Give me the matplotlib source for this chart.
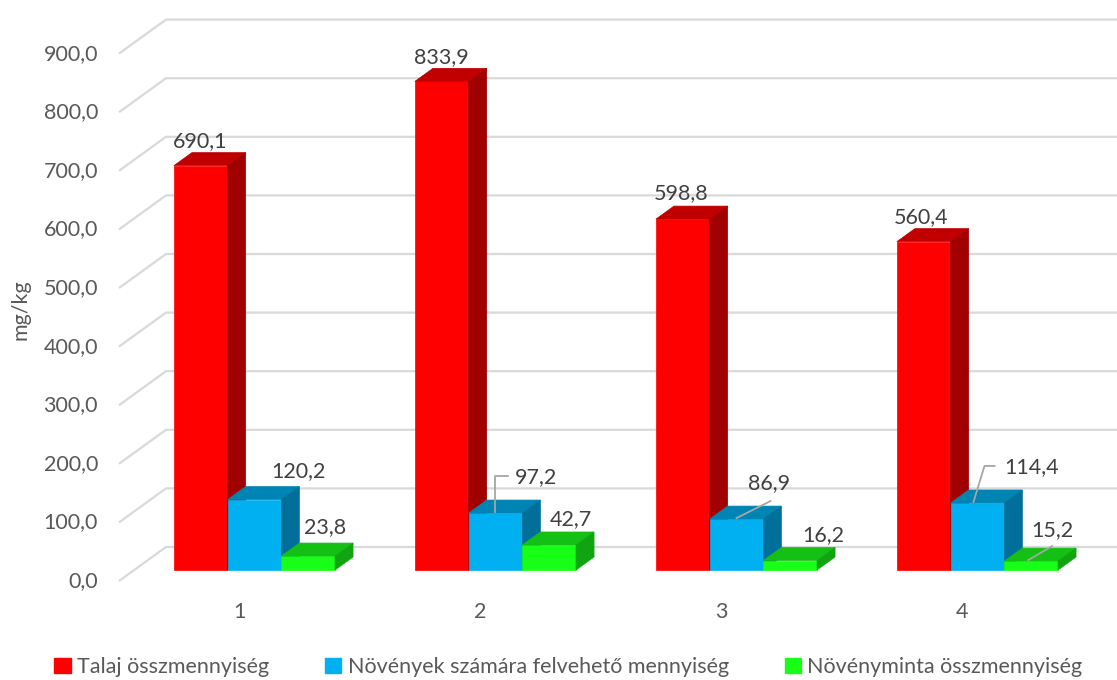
import matplotlib.pyplot as plt
from matplotlib.patches import Polygon, Patch

plt.rcParams['font.family'] = ['Lato', 'DejaVu Sans']

# adatok
categories = ['1', '2', '3', '4']
series_names = ['Talaj összmennyiség',
                'Növények számára felvehető mennyiség',
                'Növényminta összmennyiség']
talaj = [690.1, 833.9, 598.8, 560.4]
felveheto = [120.2, 97.2, 86.9, 114.4]
novenyminta = [23.8, 42.7, 16.2, 15.2]
y_ticks = [0, 100, 200, 300, 400, 500, 600, 700, 800, 900]

front_cols = ['#FF0000', '#00B0F0', '#17FF17']
top_cols = ['#C00000', '#0084B4', '#14C014']
side_cols = ['#A00000', '#00709A', '#10A410']

# címke eltolások pixelben (x, y) a hasáb tetejéhez képest
label_offsets = [
    [(-1, 25), (0, 24), (-2, 26), (-3, 25)],
    [(44, 28), (40, 36), (33, 36), (54, 36)],
    [(17, 29), (22, 26), (33, 25), (21, 31)],
]
# vezetővonalak: (sorozat, kategória, pontok pixelben)
leaders = [
    (1, 1, [(0, 1), (0, 37), (12, 37)]),
    (1, 2, [(0, 1), (34, 18)]),
    (1, 3, [(-4, 1), (7, 37), (17, 37)]),
    (2, 3, [(-3, 1), (21, 15)]),
]

W, H = 1117, 680
fig = plt.figure(figsize=(W / 100, H / 100), dpi=100)
ax = fig.add_axes([0, 0, 1, 1])
ax.axis('off')

sx = 241.0      # px / kategória
sy = 0.586      # px / mg/kg
x_org = 254.5
y_org = 570.0
ax.set_xlim(-x_org / sx, (W - x_org) / sx)
ax.set_ylim((y_org - H) / sy, y_org / sy)

def px_x(p):
    return (p - x_org) / sx

w = 53.7 / sx          # hasáb szélesség
dx = 18 / sx           # mélység
dy = 13 / sy

# rácsvonalak (hátfal)
x_front = px_x(119)
x_back = px_x(166)
x_end = ax.get_xlim()[1]
for v in y_ticks:
    ax.plot([x_front, x_back, x_end], [v - 11 / sy, v + 23 / sy, v + 23 / sy],
            color='#D9D9D9', lw=1.6, zorder=1, solid_capstyle='butt')
    ax.text(px_x(98), v - 11 / sy, f'{v:.1f}'.replace('.', ','),
            ha='right', va='center', fontsize=15.5, color='#595959')

for i, c in enumerate(categories):
    ax.text(i - 15 / sx, (y_org - 612) / sy, c, ha='center', va='center',
            fontsize=15.5, color='#595959')

ax.text(px_x(20), (y_org - 310) / sy, 'mg/kg', rotation=90, ha='center',
        va='center', fontsize=15.5, color='#595959')

all_series = [talaj, felveheto, novenyminta]
for j, vals in enumerate(all_series):
    x0s = [i - 1.5 * w + j * w for i in range(len(categories))]
    ax.bar(x0s, vals, width=w, align='edge', color=front_cols[j],
           edgecolor=front_cols[j], lw=0.5, zorder=3 + j)
    for i, v in enumerate(vals):
        x0 = x0s[i]
        top = Polygon([(x0, v), (x0 + w, v), (x0 + w + dx, v + dy), (x0 + dx, v + dy)],
                      closed=True, facecolor=top_cols[j], edgecolor=top_cols[j],
                      lw=0.5, zorder=3 + j)
        side = Polygon([(x0 + w, 0), (x0 + w + dx, dy), (x0 + w + dx, v + dy), (x0 + w, v)],
                       closed=True, facecolor=side_cols[j], edgecolor=side_cols[j],
                       lw=0.5, zorder=3 + j)
        ax.add_patch(top)
        ax.add_patch(side)
        ax.annotate(f'{v:.1f}'.replace('.', ','), xy=(x0 + w / 2, v),
                    xytext=label_offsets[j][i], textcoords='offset pixels',
                    ha='center', va='center', fontsize=15.5, color='#404040',
                    zorder=10)

inv = ax.transData.inverted()
for j, i, pts in leaders:
    v = all_series[j][i]
    xc = i - 1.5 * w + j * w + w / 2
    bx, by = ax.transData.transform((xc, v))
    data_pts = [inv.transform((bx + ox, by + oy)) for ox, oy in pts]
    ax.plot([p[0] for p in data_pts], [p[1] for p in data_pts],
            color='#A6A6A6', lw=1.3, zorder=9)

handles = [Patch(facecolor=c, edgecolor=c) for c in front_cols]
fig.legend(handles, series_names, loc='center', ncol=3, frameon=False,
           bbox_to_anchor=(568.5 / W, 1 - 667 / H), fontsize=15.5,
           handlelength=0.75, handleheight=0.75, handletextpad=0.3,
           columnspacing=2.6, labelcolor='#595959')

fig.savefig('out.png', dpi=100)
